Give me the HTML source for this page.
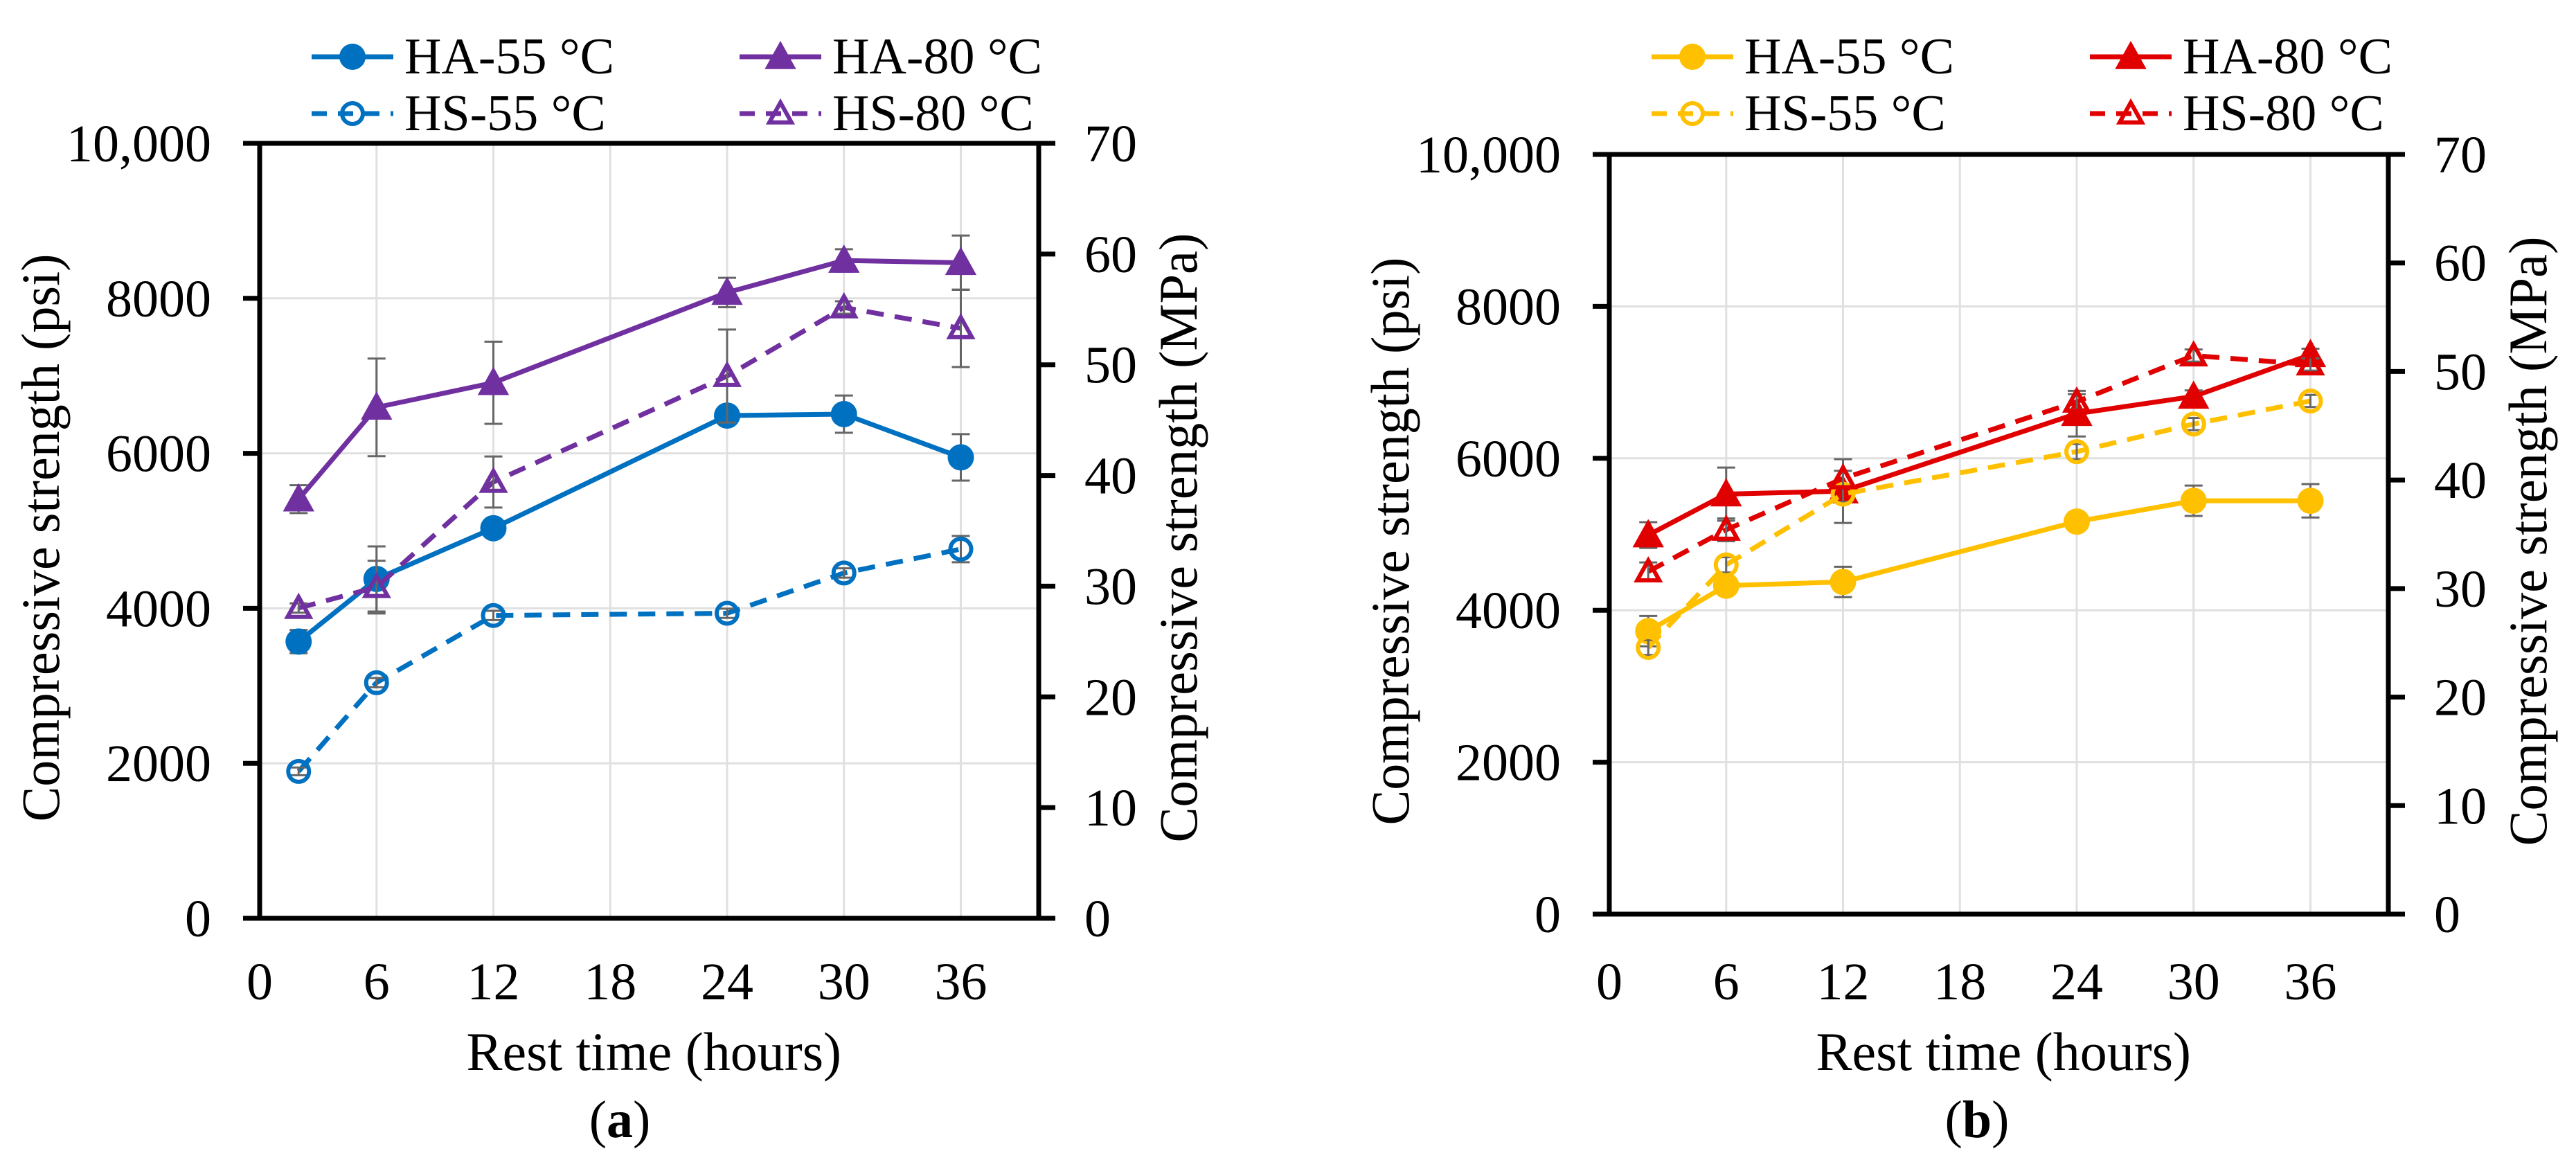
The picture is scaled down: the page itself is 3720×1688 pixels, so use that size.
<!DOCTYPE html>
<html><head><meta charset="utf-8">
<style>
html,body{margin:0;padding:0;background:#fff;}
svg{display:block;font-family:"Liberation Serif",serif;}
</style></head>
<body>
<svg id="fig" width="3720" height="1688" viewBox="0 0 3720 1688" xmlns="http://www.w3.org/2000/svg"></svg>
<script>
// ---- data ----
const hours = [2, 6, 12, 24, 30, 36];
const xTicks = [0, 6, 12, 18, 24, 30, 36];
const psiTicks = [0, 2000, 4000, 6000, 8000, 10000];
const psiTickLabels = ["0", "2000", "4000", "6000", "8000", "10,000"];
const mpaTicks = [0, 10, 20, 30, 40, 50, 60, 70];

// panel (a)
const aHA55 = [3571, 4379, 5034, 6487, 6506, 5948];
const aHA55err = [150, 420, 60, 60, 240, 300];
const aHA80 = [5409, 6593, 6911, 8075, 8489, 8460];
const aHA80err = [180, 630, 530, 190, 145, 350];
const aHS55 = [1896, 3041, 3908, 3936, 4456, 4764];
const aHS55err = [50, 60, 60, 60, 60, 170];
const aHS80 = [4004, 4273, 5630, 6997, 7882, 7613];
const aHS80err = [60, 340, 330, 600, 80, 500];

// panel (b)
const bHA55 = [3725, 4324, 4373, 5167, 5441, 5441];
const bHA55err = [200, 80, 200, 60, 200, 220];
const bHA80 = [4990, 5529, 5569, 6588, 6814, 7363];
const bHA80err = [170, 350, 420, 300, 80, 80];
const bHS55 = [3510, 4598, 5529, 6088, 6451, 6755];
const bHS55err = [100, 100, 100, 100, 80, 80];
const bHS80 = [4510, 5059, 5735, 6745, 7353, 7235];
const bHS80err = [120, 150, 100, 100, 80, 80];

const svg = document.getElementById('fig');
const NS = 'http://www.w3.org/2000/svg';
function mk(tag, attrs, parent) {
  const e = document.createElementNS(NS, tag);
  for (const k in attrs) e.setAttribute(k, attrs[k]);
  (parent || svg).appendChild(e);
  return e;
}

function marker(g, shape, filled, color, cx, cy) {
  let m;
  if (shape === 'circle') {
    m = mk('circle', {cx: cx, cy: cy, r: filled ? 19 : 15, fill: filled ? color : '#fff', 'fill-opacity': filled ? 1 : 0, stroke: color, 'stroke-width': filled ? 0 : 6}, g);
  } else {
    const s = filled ? 21 : 16;
    m = mk('polygon', {points: `${cx},${cy - s} ${cx + s},${cy + s * 0.8} ${cx - s},${cy + s * 0.8}`, fill: filled ? color : 'none', stroke: color, 'stroke-width': filled ? 2 : 6, 'stroke-linejoin': 'miter'}, g);
  }
  return m;
}

function panel(p) {
  const X = v => p.L + (v - 0) / 40 * (p.R - p.L);
  const Y = v => p.B - v / 10000 * (p.B - p.T);
  const g = mk('g', {});
  
  
  xTicks.forEach(t => {
    if (t === 0) return;
    const l = mk('line', {x1: X(t), x2: X(t), y1: p.T, y2: p.B, stroke: '#e0e0e0', 'stroke-width': 3}, g);
    
    
  });
  psiTicks.forEach(t => {
    if (t === 0 || t === 10000) return;
    const l = mk('line', {x1: p.L, x2: p.R, y1: Y(t), y2: Y(t), stroke: '#e0e0e0', 'stroke-width': 3}, g);
    
    
  });
  p.series.forEach(s => {
    const sg = mk('g', {}, g);
    
    
    const pts = hours.map((h, i) => X(h) + ',' + Y(s.vals[i])).join(' ');
    mk('polyline', {points: pts, fill: 'none', stroke: s.color, 'stroke-width': 7, 'stroke-dasharray': s.dash ? '25 16' : 'none'}, sg);
    hours.forEach((h, i) => {
      const x = X(h), y1 = Y(s.vals[i] + s.err[i]), y2 = Y(s.vals[i] - s.err[i]);
      const eb = mk('path', {d: `M${x},${y1}V${y2}M${x - 13},${y1}H${x + 13}M${x - 13},${y2}H${x + 13}`, stroke: '#666', 'stroke-width': 3, fill: 'none'}, sg);
      
      
      const m = marker(sg, s.shape, !s.dash, s.color, x, Y(s.vals[i]));
      
      
    });
  });
  const ax = mk('path', {d: `M${p.L},${p.T}V${p.B}H${p.R}V${p.T}H${p.L}`, fill: 'none', stroke: '#000', 'stroke-width': 7}, g);
  
  
  psiTicks.forEach((t, i) => {
    mk('line', {x1: p.L - 24, x2: p.L, y1: Y(t), y2: Y(t), stroke: '#000', 'stroke-width': 7}, g);
    const tx = mk('text', {x: p.L - 70, y: Y(t) + 26, 'text-anchor': 'end', 'font-size': 76}, g);
    tx.textContent = psiTickLabels[i];
    
    
  });
  mpaTicks.forEach(t => {
    const yy = p.B - t / 70 * (p.B - p.T);
    mk('line', {x1: p.R, x2: p.R + 24, y1: yy, y2: yy, stroke: '#000', 'stroke-width': 7}, g);
    const tx = mk('text', {x: p.R + 66, y: yy + 26, 'text-anchor': 'start', 'font-size': 76}, g);
    tx.textContent = String(t);
    
    
  });
  xTicks.forEach(t => {
    const tx = mk('text', {x: X(t), y: 1443, 'text-anchor': 'middle', 'font-size': 76}, g);
    tx.textContent = String(t);
    
    
  });
  const xl = mk('text', {x: (X(0) + X(36)) / 2 + 63, y: 1545, 'text-anchor': 'middle', 'font-size': 78}, g);
  xl.textContent = 'Rest time (hours)';
  
  
  const yl = mk('text', {transform: `translate(${p.L - 290},${(p.T + p.B) / 2 + 10}) rotate(-90)`, 'text-anchor': 'middle', 'font-size': 78, textLength: 820, lengthAdjust: 'spacingAndGlyphs'}, g);
  yl.textContent = 'Compressive strength (psi)';
  
  
  const yr = mk('text', {transform: `translate(${p.R + 228},${(p.T + p.B) / 2 + 10}) rotate(-90)`, 'text-anchor': 'middle', 'font-size': 78, textLength: 880, lengthAdjust: 'spacingAndGlyphs'}, g);
  yr.textContent = 'Compressive strength (MPa)';
  
  
  const cap = mk('text', {x: p.capX, y: 1642, 'text-anchor': 'middle', 'font-size': 76}, g);
  cap.innerHTML = '(<tspan font-weight="bold">' + p.cap + '</tspan>)';
  
  
  p.series.forEach((s, i) => {
    const lx = p.legX[i % 2], ly = i < 2 ? 82 : 164;
    const lg = mk('g', {}, g);
    
    
    mk('line', {x1: lx, x2: lx + 118, y1: ly, y2: ly, stroke: s.color, 'stroke-width': 7, 'stroke-dasharray': s.dash ? '22 16' : 'none'}, lg);
    marker(lg, s.shape, !s.dash, s.color, lx + 59, ly);
    const t = mk('text', {x: lx + 134, y: ly + 24, 'font-size': 74}, lg);
    t.textContent = s.label;
  });
}

panel({name: 'chart-a', L: 375, R: 1500, T: 207, B: 1326, capX: 895, cap: 'a', legX: [450, 1068],
  series: [
    {name: 'series-ha-55', label: 'HA-55 °C', vals: aHA55, err: aHA55err, color: '#0070C0', shape: 'circle', dash: false},
    {name: 'series-ha-80', label: 'HA-80 °C', vals: aHA80, err: aHA80err, color: '#7030A0', shape: 'tri', dash: false},
    {name: 'series-hs-55', label: 'HS-55 °C', vals: aHS55, err: aHS55err, color: '#0070C0', shape: 'circle', dash: true},
    {name: 'series-hs-80', label: 'HS-80 °C', vals: aHS80, err: aHS80err, color: '#7030A0', shape: 'tri', dash: true}
  ]});
panel({name: 'chart-b', L: 2324, R: 3449, T: 223, B: 1320, capX: 2855, cap: 'b', legX: [2385, 3018],
  series: [
    {name: 'series-ha-55', label: 'HA-55 °C', vals: bHA55, err: bHA55err, color: '#FFC000', shape: 'circle', dash: false},
    {name: 'series-ha-80', label: 'HA-80 °C', vals: bHA80, err: bHA80err, color: '#E00000', shape: 'tri', dash: false},
    {name: 'series-hs-55', label: 'HS-55 °C', vals: bHS55, err: bHS55err, color: '#FFC000', shape: 'circle', dash: true},
    {name: 'series-hs-80', label: 'HS-80 °C', vals: bHS80, err: bHS80err, color: '#E00000', shape: 'tri', dash: true}
  ]});
</script>
</body></html>
